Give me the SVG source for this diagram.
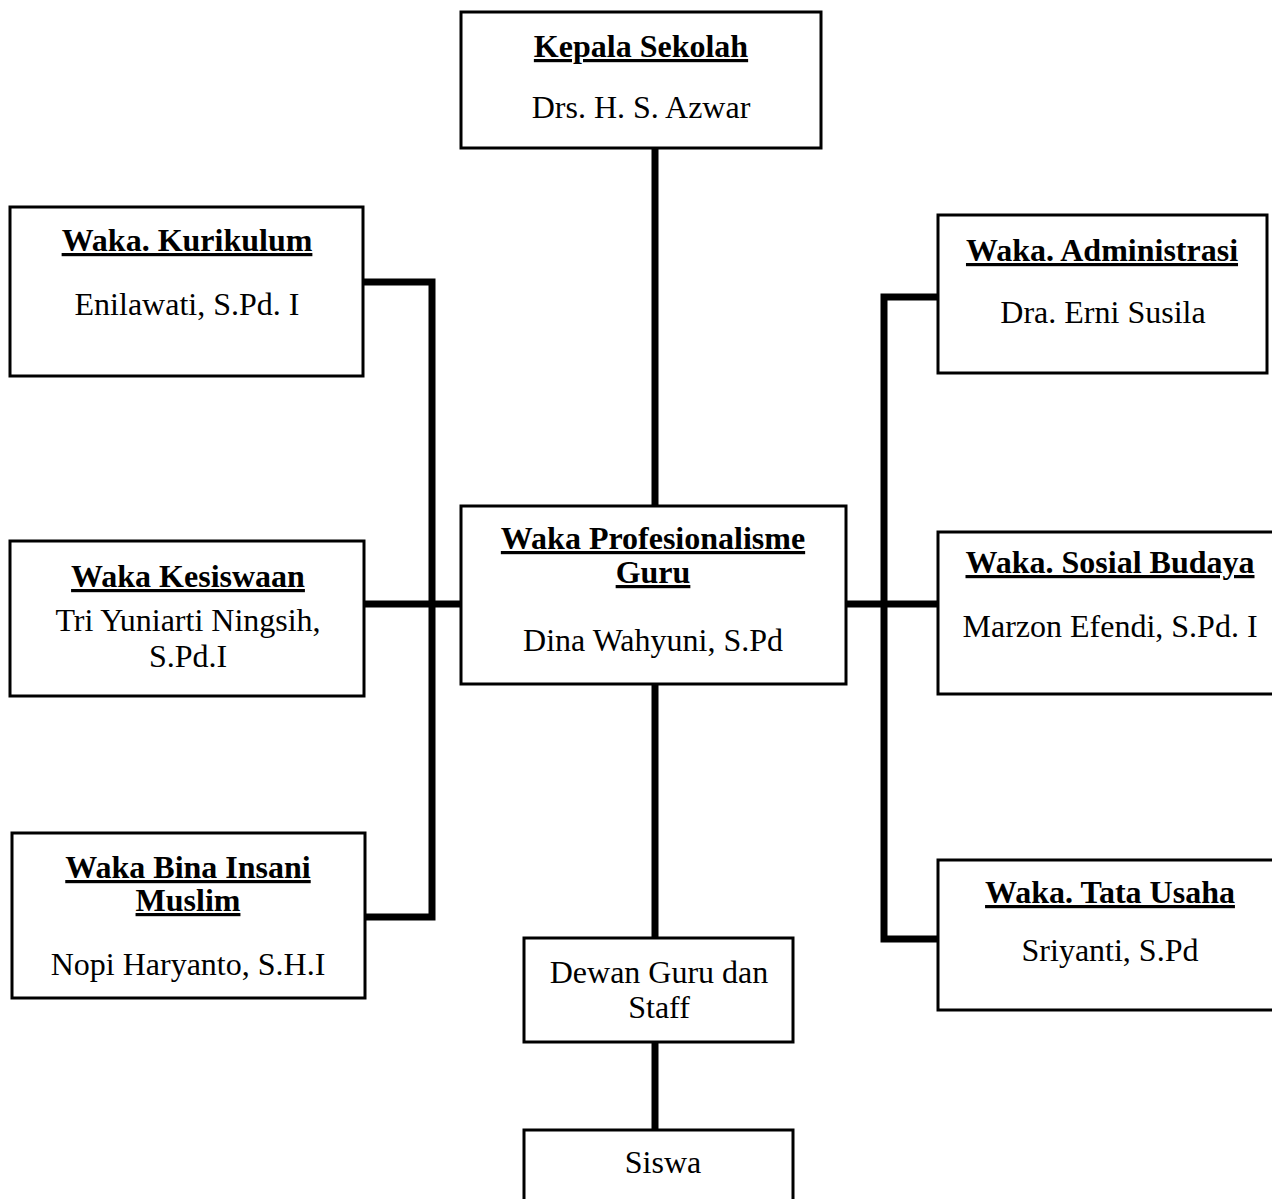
<svg xmlns="http://www.w3.org/2000/svg" width="1272" height="1199" viewBox="0 0 1272 1199">
<style>
.box{fill:#fff;stroke:#000;stroke-width:3}
text{font-family:"Liberation Serif","Times New Roman",serif;font-size:32px;fill:#000;text-anchor:middle}
.t{font-weight:bold;text-decoration:underline}
.c{stroke:#000;stroke-width:7;fill:none;stroke-linecap:square}
</style>
<rect width="1272" height="1199" fill="#fff"/>
<g id="connectors">
<line class="c" x1="655" y1="148" x2="655" y2="506"/>
<line class="c" x1="655" y1="684" x2="655" y2="938"/>
<line class="c" x1="655" y1="1042" x2="655" y2="1130"/>
<polyline class="c" points="364,282 432,282 432,917 366,917"/>
<line class="c" x1="365" y1="604" x2="461" y2="604"/>
<polyline class="c" points="938,297 884,297 884,939 938,939"/>
<line class="c" x1="846" y1="604" x2="938" y2="604"/>
</g>
<g id="kepala">
<rect class="box" x="461" y="12" width="360" height="136"/>
<text class="t" x="641" y="57">Kepala Sekolah</text>
<text x="641" y="118">Drs. H. S. Azwar</text>
</g>
<g id="kurikulum">
<rect class="box" x="10" y="207" width="353" height="169"/>
<text class="t" x="187" y="251">Waka. Kurikulum</text>
<text x="187" y="315">Enilawati, S.Pd. I</text>
</g>
<g id="kesiswaan">
<rect class="box" x="10" y="541" width="354" height="155"/>
<text class="t" x="188" y="587">Waka Kesiswaan</text>
<text x="188" y="631">Tri Yuniarti Ningsih,</text>
<text x="188" y="667">S.Pd.I</text>
</g>
<g id="bina">
<rect class="box" x="12" y="833" width="353" height="165"/>
<text class="t" x="188" y="878">Waka Bina Insani</text>
<text class="t" x="188" y="911">Muslim</text>
<text x="188" y="975">Nopi Haryanto, S.H.I</text>
</g>
<g id="profesionalisme">
<rect class="box" x="461" y="506" width="385" height="178"/>
<text class="t" x="653" y="549">Waka Profesionalisme</text>
<text class="t" x="653" y="583">Guru</text>
<text x="653" y="651">Dina Wahyuni, S.Pd</text>
</g>
<g id="administrasi">
<rect class="box" x="938" y="215" width="329" height="158"/>
<text class="t" x="1102" y="261">Waka. Administrasi</text>
<text x="1103" y="323">Dra. Erni Susila</text>
</g>
<g id="sosial">
<rect class="box" x="938" y="532" width="345" height="162"/>
<text class="t" x="1110" y="573">Waka. Sosial Budaya</text>
<text x="1110" y="637">Marzon Efendi, S.Pd. I</text>
</g>
<g id="tatausaha">
<rect class="box" x="938" y="860" width="345" height="150"/>
<text class="t" x="1110" y="903">Waka. Tata Usaha</text>
<text x="1110" y="961">Sriyanti, S.Pd</text>
</g>
<g id="dewan">
<rect class="box" x="524" y="938" width="269" height="104"/>
<text x="659" y="983">Dewan Guru dan</text>
<text x="659" y="1018">Staff</text>
</g>
<g id="siswa">
<rect class="box" x="524" y="1130" width="269" height="80"/>
<text x="663" y="1173">Siswa</text>
</g>
</svg>
